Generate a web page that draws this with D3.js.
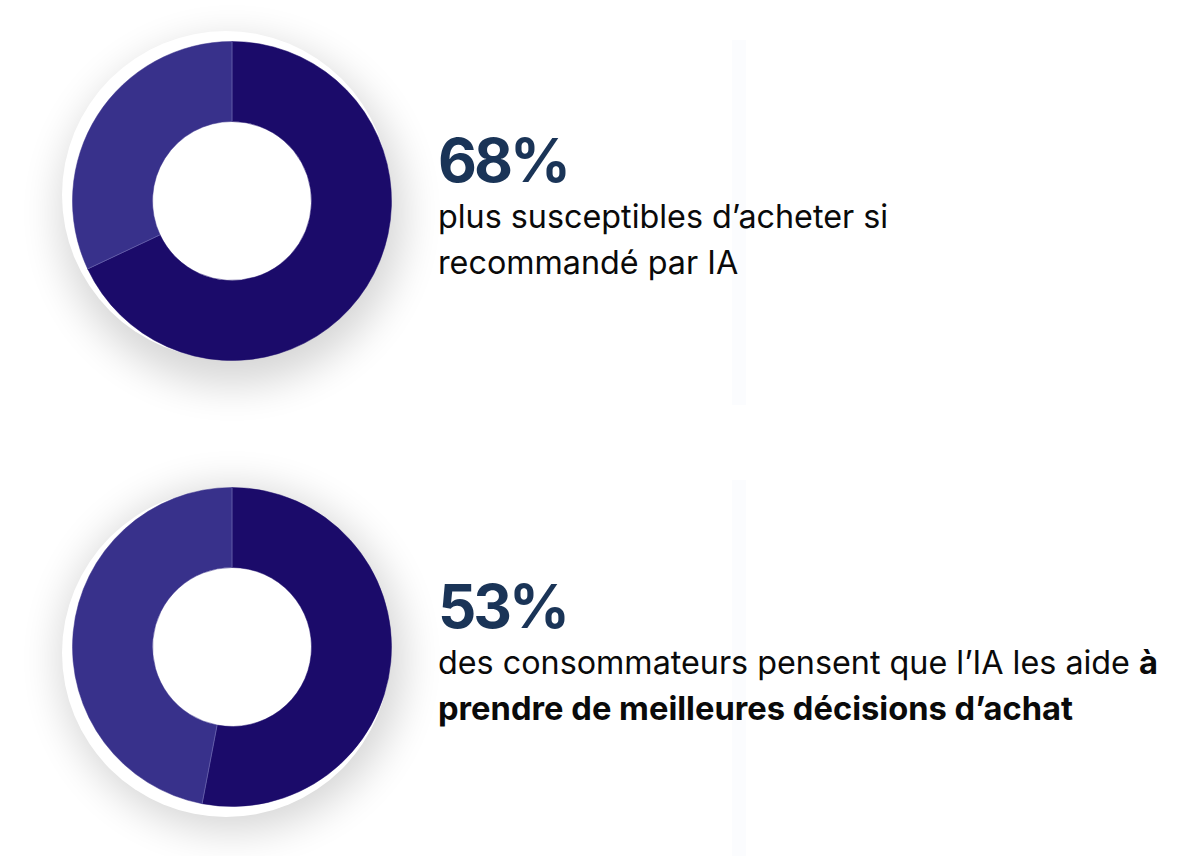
<!DOCTYPE html>
<html>
<head>
<meta charset="utf-8">
<script src="https://cdn.jsdelivr.net/npm/d3@7"></script>
<style>
  html, body { margin: 0; padding: 0; background: #fff; }
  svg { display: block; }
</style>
</head>
<body>
<div id="chart"></div>
<script>
// values
const shares = [68, 53];
const labels = ["68%", "53%"];
// each line is a list of [text, bold] runs
const captions = [
    [[["plus susceptibles d’acheter si", false]],
     [["recommandé par IA", false]]],
    [[["des consommateurs pensent que l’IA les aide ", false], ["à", true]],
     [["prendre de meilleures décisions d’achat", true]]]
];

const width = 1200, height = 856;
const dark = "#1b0b6a", light = "#38318b";

let svg = d3.select("#chart").append("svg")
    .attr("width", width)
    .attr("height", height);

let defs = svg.append("defs");
defs.append("filter")
    .attr("id", "soft")
    .attr("x", "-50%").attr("y", "-50%")
    .attr("width", "200%").attr("height", "200%")
    .append("feGaussianBlur")
    .attr("stdDeviation", 20);

// faint vertical bands behind the text
svg.selectAll("rect.band")
    .data([[40, 365], [480, 376]])
    .enter().append("rect")
    .attr("class", "band")
    .attr("x", 732).attr("y", d => d[0])
    .attr("width", 14).attr("height", d => d[1])
    .attr("fill", "#fbfcfe");

let y = d3.scalePoint().domain(d3.range(shares.length)).range([201, 647]);
let pie = d3.pie().sort(null).value(d => d);
let arc = d3.arc().innerRadius(79.5).outerRadius(159.5);
// white disk sits a little off centre, up on the first, down on the second
let discShift = [-6, 6];

shares.forEach(function (share, i) {
    let g = svg.append("g")
        .attr("transform", "translate(232," + y(i) + ")");

    g.append("circle")
        .attr("cx", 0).attr("cy", 12)
        .attr("r", 172)
        .attr("fill", "#000")
        .attr("opacity", 0.16)
        .attr("filter", "url(#soft)");

    g.append("circle")
        .attr("cx", -6).attr("cy", discShift[i])
        .attr("r", 164)
        .attr("fill", "#fff");

    let slices = pie([share, 100 - share]);
    g.selectAll("path.slice")
        .data(slices)
        .enter().append("path")
        .attr("class", "slice")
        .attr("d", arc)
        .attr("fill", (d, k) => k === 0 ? dark : light)
        .attr("stroke", (d, k) => k === 0 ? dark : light)
        .attr("stroke-width", 0.5);

    // thin light seams between the slices
    g.selectAll("line.seam")
        .data(slices)
        .enter().append("line")
        .attr("class", "seam")
        .attr("x1", d => 79.5 * Math.sin(d.startAngle))
        .attr("y1", d => -79.5 * Math.cos(d.startAngle))
        .attr("x2", d => 159.5 * Math.sin(d.startAngle))
        .attr("y2", d => -159.5 * Math.cos(d.startAngle))
        .attr("stroke", "#6a64ad")
        .attr("stroke-width", 0.8);

    let tx = 438, base = y(i) - 19;
    svg.append("text")
        .attr("x", tx).attr("y", base)
        .attr("font-family", "Inter, sans-serif")
        .attr("font-weight", 700)
        .attr("font-size", 60)
        .attr("letter-spacing", -3)
        .attr("fill", "#1a3457")
        .text(labels[i]);

    captions[i].forEach(function (line, j) {
        let t = svg.append("text")
            .attr("x", tx).attr("y", base + 46 * (j + 1))
            .attr("font-family", "Inter, sans-serif")
            .attr("font-size", 32.3)
            .attr("fill", "#0a0a0a");
        line.forEach(function (run) {
            t.append("tspan")
                .attr("font-weight", run[1] ? 700 : 400)
                .attr("font-size", run[1] ? 32.7 : 32.3)
                .text(run[0]);
        });
    });
});
</script>
</body>
</html>
